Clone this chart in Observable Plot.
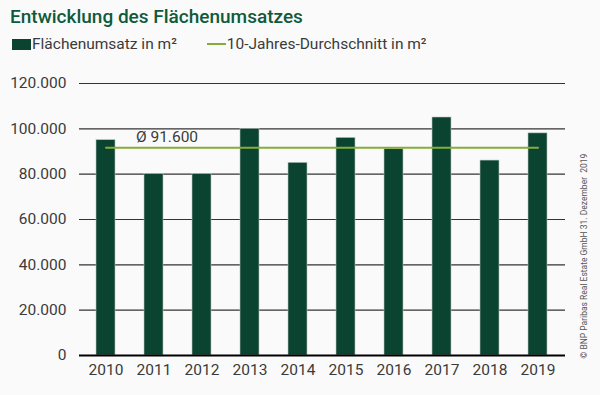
<!DOCTYPE html>
<html><head><meta charset="utf-8">
<script src="https://cdn.jsdelivr.net/npm/d3@7"></script>
<script src="https://cdn.jsdelivr.net/npm/@observablehq/plot@0.6"></script>
<style>
html,body{margin:0;padding:0;background:#fafafa;width:600px;height:395px;overflow:hidden;font-family:Roboto,"Noto Sans",sans-serif;}
#title{position:absolute;left:10px;top:5px;font-size:19px;font-weight:500;color:#0e5a3c;white-space:nowrap;}
#legend{position:absolute;left:12px;top:35px;font-size:15.5px;color:#3a3a3a;white-space:nowrap;display:flex;align-items:center;}
.sw{display:inline-block;width:19px;height:11px;background:#0b4331;margin-right:1px;}
.ln{display:inline-block;width:19px;height:2px;background:#86ad3a;margin-left:30px;margin-right:1px;}
#chart{position:absolute;left:0;top:58px;}
#copy{position:absolute;left:584px;top:256px;transform:translate(-50%,-50%) rotate(-90deg);font-size:8.5px;color:#555;white-space:nowrap;}
</style></head>
<body>
<div id="title">Entwicklung des Flächenumsatzes</div>
<div id="legend"><span class="sw"></span>Flächenumsatz in m²<span class="ln"></span>10-Jahres-Durchschnitt in m²</div>
<div id="chart"></div>
<div id="copy">© BNP Paribas Real Estate GmbH 31. Dezember&nbsp; 2019</div>
<script>
const years = ["2010","2011","2012","2013","2014","2015","2016","2017","2018","2019"];
const umsatz = [95000, 80000, 80000, 100000, 85000, 96000, 91000, 105000, 86000, 98000];
const average = 91600;
const yTicks = [0, 20000, 40000, 60000, 80000, 100000, 120000];
const avgLabel = "Ø 91.600";

const data = years.map((y, i) => ({year: y, value: umsatz[i]}));
const fmt = d => d === 0 ? "0" : d3.format(",")(d).replace(/,/g, ".");

const chart = Plot.plot({
  width: 600,
  height: 337,
  marginLeft: 79,
  marginRight: 35,
  marginTop: 25,
  marginBottom: 40,
  style: {background: "transparent", fontFamily: "Roboto, 'Noto Sans', sans-serif", fontSize: "15.5px", color: "#3a3a3a"},
  x: {domain: years, paddingInner: 0.6, paddingOuter: 0.3, label: null, tickSize: 0, tickPadding: 8},
  y: {domain: [0, 120000], ticks: yTicks, tickFormat: fmt, label: null, tickSize: 0, tickPadding: 13},
  marks: [
    Plot.ruleY(yTicks.filter(d => d > 0), {stroke: "#333", strokeWidth: 1.2}),
    Plot.barY(data, {x: "year", y: "value", fill: "#0b4331", stroke: "#b9c4bf", strokeWidth: 0.6}),
    Plot.ruleY([0], {stroke: "#000", strokeWidth: 2}),
    Plot.line([{year: years[0], v: average}, {year: years[years.length - 1], v: average}], {x: "year", y: "v", stroke: "#86ad3a", strokeWidth: 2}),
    Plot.text([{year: years[1], v: average}], {x: "year", y: "v", text: () => avgLabel, dx: 13, dy: -11, fill: "#3a3a3a", fontSize: 15.5})
  ]
});
document.getElementById("chart").appendChild(chart);
</script>
</body></html>
